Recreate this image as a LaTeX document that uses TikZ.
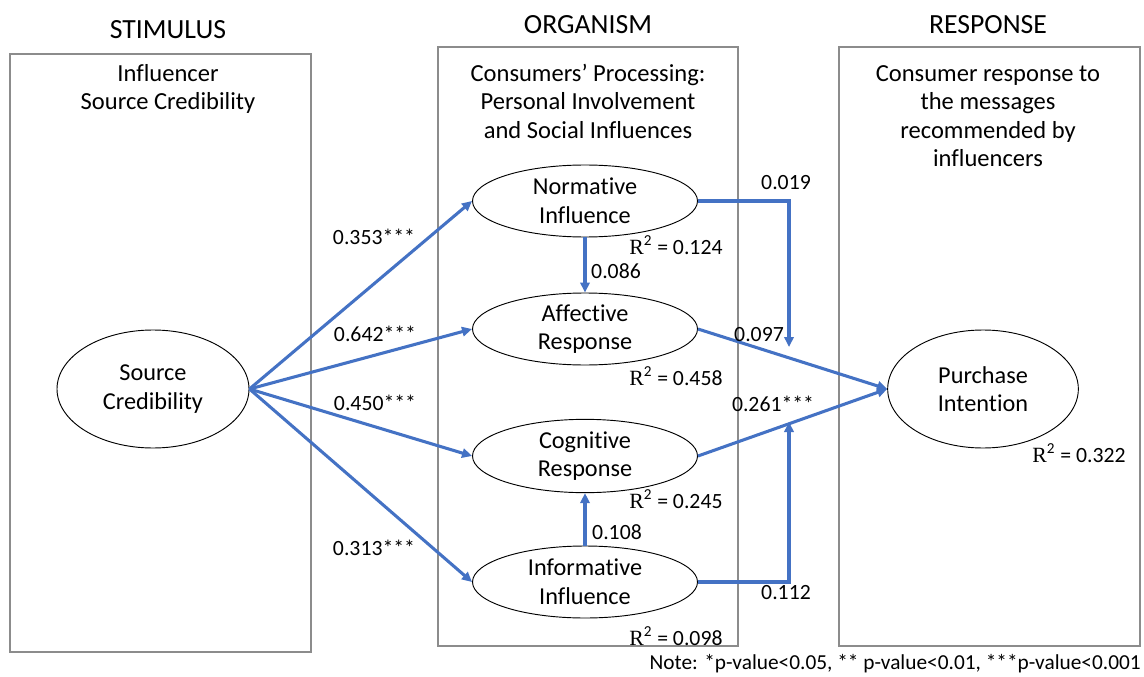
\documentclass[tikz,border=0pt]{standalone}
\usepackage{fontspec}
\setmainfont{Carlito}[Ligatures=NoCommon]
\newfontfamily\serifR{Liberation Serif}
\usetikzlibrary{shapes.geometric,arrows.meta}
\definecolor{pathblue}{RGB}{68,114,196}
\definecolor{boxgray}{RGB}{140,140,140}
\newcommand{\rsq}[1]{{\serifR R}\textsuperscript{2} = #1}
\tikzset{
  box/.style={draw=boxgray, line width=1.1pt},
  head/.style={font=\fontsize{20.8}{25}\selectfont},
  txt/.style={align=center, font=\fontsize{18.4}{21.4}\selectfont},
  latent/.style={draw, ellipse, line width=0.7pt, inner sep=0pt, align=center, font=\fontsize{18.2}{21.4}\selectfont},
  coef/.style={font=\fontsize{16.3}{20}\selectfont, inner sep=0pt},
  link/.style={draw=pathblue, line width=2.3pt, -{Triangle[length=7.5pt,width=7pt]}},
}
\begin{document}
\begin{tikzpicture}[x=0.75pt,y=-0.75pt]
\useasboundingbox (0,0) rectangle (1144,677);

\draw[box] (10,54) rectangle (311,652);
\draw[box] (438,47) rectangle (738,646);
\draw[box] (839,47) rectangle (1140,646);

\node[head] (stim) at (168,30) {STIMULUS};
\node[head] (org) at (588,25) {ORGANISM};
\node[head] (resp) at (988,25) {RESPONSE};

\node[txt] (stimtxt) at (168,89) {Influencer\\Source Credibility};
\node[txt] (orgtxt) at (588,101) {Consumers’ Processing:\\Personal Involvement\\and Social Influences};
\node[txt] (resptxt) at (988,116) {Consumer response to\\the messages\\recommended by\\influencers};

\node[latent, minimum width=144pt, minimum height=88.5pt] (sc) at (153,389) {Source\\Credibility};
\node[latent, minimum width=168.75pt, minimum height=54pt] (ni) at (585,201) {Normative\\Influence};
\node[latent, minimum width=168.75pt, minimum height=54pt] (ar) at (585,329) {Affective\\Response};
\node[latent, minimum width=168.75pt, minimum height=55pt] (cr) at (585,456) {Cognitive\\Response};
\node[latent, minimum width=168.75pt, minimum height=54pt] (ii) at (585,582) {Informative\\Influence};
\node[latent, minimum width=143pt, minimum height=88.5pt] (pi) at (983,389) {Purchase\\Intention};

\coordinate (nitip) at (789,347);
\coordinate (iitip) at (789,422);

\draw[link] (sc.east) -- (ni.west);
\draw[link] (sc.east) -- (ar.west);
\draw[link] (sc.east) -- (cr.west);
\draw[link] (sc.east) -- (ii.west);
\draw[link] (ni.south) -- (ar.north);
\draw[link] (ii.north) -- (cr.south);
\draw[link] (ni.east) -| (nitip);
\draw[link] (ii.east) -| (iitip);
\draw[link] (ar.east) -- (pi.west);
\draw[link] (cr.east) -- (pi.west);

\node[coef] (c1) at (374,237) {0.353***};
\node[coef] (c2) at (375,334) {0.642***};
\node[coef] (c3) at (375,403) {0.450***};
\node[coef] (c4) at (374,548) {0.313***};
\node[coef] (c5) at (786,183) {0.019};
\node[coef] (c6) at (616,271) {0.086};
\node[coef] (c7) at (759,335) {0.097};
\node[coef] (c8) at (773,404) {0.261***};
\node[coef] (c9) at (617,532) {0.108};
\node[coef] (c10) at (786,593) {0.112};

\node[coef] (r1) at (676,245) {\rsq{0.124}};
\node[coef] (r2) at (676,376) {\rsq{0.458}};
\node[coef] (r3) at (676,499) {\rsq{0.245}};
\node[coef] (r4) at (676,636) {\rsq{0.098}};
\node[coef] (r5) at (1079,453) {\rsq{0.322}};

\node[coef, anchor=east, font=\fontsize{16}{20}\selectfont] (note) at (1141,664) {Note: *p-value<0.05, ** p-value<0.01, ***p-value<0.001};
\end{tikzpicture}
\end{document}
